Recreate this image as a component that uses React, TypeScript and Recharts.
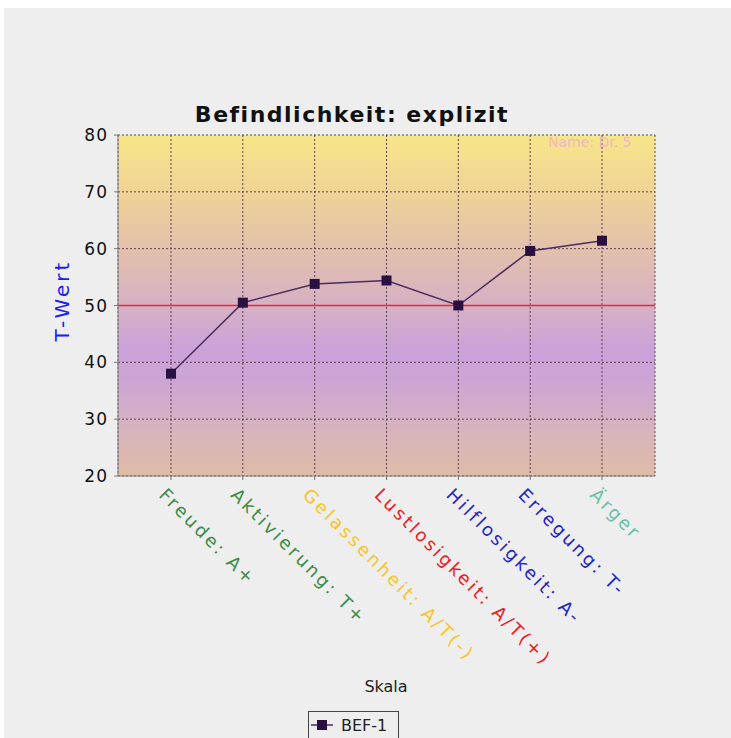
import React from 'react';
import { LineChart, Line, XAxis, YAxis, CartesianGrid, ReferenceLine } from 'recharts';

const categories = ['Freude: A+', 'Aktivierung: T+', 'Gelassenheit: A/T(-)', 'Lustlosigkeit: A/T(+)', 'Hilflosigkeit: A-', 'Erregung: T-', 'Ärger'];
const bef1 = [38, 50.5, 53.8, 54.4, 50, 59.6, 61.4];
const labelColors = ['#3d8c47', '#3d8c47', '#f6c52a', '#e81c24', '#2424c8', '#2424c0', '#6cbfa6'];
const yTicks = [20, 30, 40, 50, 60, 70, 80];
const gridValues = [20, 30, 40, 60, 70, 80];
const refValue = 50;
const seriesName = 'BEF-1';
const title = 'Befindlichkeit: explizit';
const xTitle = 'Skala';
const yTitle = 'T-Wert';
const nameNote = 'Name: Dr. 5';

const data = categories.map((c, i) => ({ cat: c, v: bef1[i] }));

const FONT = '"DejaVu Sans", Verdana, sans-serif';
const W = 727;
const H = 730;

const XTick = (props: any) => {
  const { x, y, payload } = props;
  const idx = categories.indexOf(payload.value);
  return (
    <g transform={`translate(${x - 13},${y + 14}) rotate(45)`}>
      <text x={0} y={0} textAnchor="start" fill={labelColors[idx]} fontSize={18} letterSpacing={2.8} fontFamily={FONT}>
        {payload.value}
      </text>
    </g>
  );
};

const YTick = (props: any) => {
  const { x, y, payload } = props;
  return (
    <text x={x} y={y} dy="0.36em" textAnchor="end" fill="#111" fontSize={17} letterSpacing={1} fontFamily={FONT}>
      {payload.value}
    </text>
  );
};

const Square = (props: any) => {
  const { cx, cy } = props;
  if (cx == null || cy == null) return null;
  return <rect x={cx - 5} y={cy - 5} width={10} height={10} fill="#2a1040" />;
};

const YLabel = (props: any) => {
  const vb = props.viewBox || { x: 54, y: 127, width: 60, height: 341 };
  const cx = 65;
  const cy = vb.y + vb.height / 2 - 5;
  return (
    <text transform={`translate(${cx},${cy}) rotate(-90)`} textAnchor="middle" fill="#1a1aff" fontSize={20} letterSpacing={3} fontFamily={FONT}>
      {yTitle}
    </text>
  );
};

export default function App() {
  return (
    <div style={{ position: 'absolute', left: 4, top: 8, width: W, height: H, background: '#eeeeee', overflow: 'hidden' }}>
      <LineChart width={W} height={H} data={data} margin={{ top: 127, right: 76, left: 54, bottom: 232 }}>
        <defs>
          <linearGradient id="bgGrad" x1="0" y1="0" x2="0" y2="1">
            <stop offset="0" stopColor="#f7e689" />
            <stop offset="0.17" stopColor="#efd396" />
            <stop offset="0.33" stopColor="#e3c1ab" />
            <stop offset="0.5" stopColor="#d6b1c4" />
            <stop offset="0.63" stopColor="#cba2da" />
            <stop offset="0.72" stopColor="#cca5d5" />
            <stop offset="0.86" stopColor="#d7b3c0" />
            <stop offset="1" stopColor="#dfbca5" />
          </linearGradient>
        </defs>
        <CartesianGrid
          fill="url(#bgGrad)"
          fillOpacity={1}
          stroke="#5a4450"
          strokeDasharray="2 2"
          strokeWidth={1}
          horizontalValues={gridValues}
        />
        <XAxis
          dataKey="cat"
          interval={0}
          padding={{ left: 53, right: 53 }}
          tick={<XTick />}
          tickSize={4}
          tickLine={{ stroke: '#777' }}
          axisLine={{ stroke: '#888' }}
          height={30}
        />
        <XAxis xAxisId="top" dataKey="cat" orientation="top" tick={false} tickLine={false} axisLine={{ stroke: '#888' }} height={0} padding={{ left: 53, right: 53 }} />
        <YAxis
          domain={[20, 80]}
          ticks={yTicks}
          type="number"
          tick={<YTick />}
          tickSize={4}
          tickMargin={6}
          tickLine={{ stroke: '#777' }}
          axisLine={{ stroke: '#888' }}
          width={60}
          label={<YLabel />}
        />
        <YAxis yAxisId="r" orientation="right" domain={[20, 80]} tick={false} tickLine={false} axisLine={{ stroke: '#888' }} width={0} />
        <ReferenceLine y={refValue} stroke="#ff1f2f" strokeWidth={1.3} strokeOpacity={1} ifOverflow="extendDomain" />
        <Line
          dataKey="v"
          name={seriesName}
          stroke="#4b2e60"
          strokeWidth={1.5}
          dot={<Square />}
          activeDot={false}
          isAnimationActive={false}
        />
      </LineChart>
      <svg width={W} height={H} style={{ position: 'absolute', left: 0, top: 0, pointerEvents: 'none' }}>
        <text x={348} y={114} textAnchor="middle" fontSize={22} fontWeight="bold" letterSpacing={1.5} fill="#111" fontFamily={FONT}>
          {title}
        </text>
        <text x={544} y={139} fontSize={14} fill="#f2b6c2" fontFamily={FONT}>
          {nameNote}
        </text>
        <text x={382} y={684} textAnchor="middle" fontSize={16} fill="#222" fontFamily={FONT}>
          {xTitle}
        </text>
        <rect x={304.5} y={703.5} width={90} height={40} fill="none" stroke="#444" strokeWidth={1} />
        <line x1={307} y1={717} x2={329} y2={717} stroke="#4b2e60" strokeWidth={1.5} />
        <rect x={313} y={712} width={10} height={10} fill="#2a1040" />
        <text x={337} y={723} fontSize={16} fill="#222" fontFamily={FONT}>
          {seriesName}
        </text>
      </svg>
    </div>
  );
}
